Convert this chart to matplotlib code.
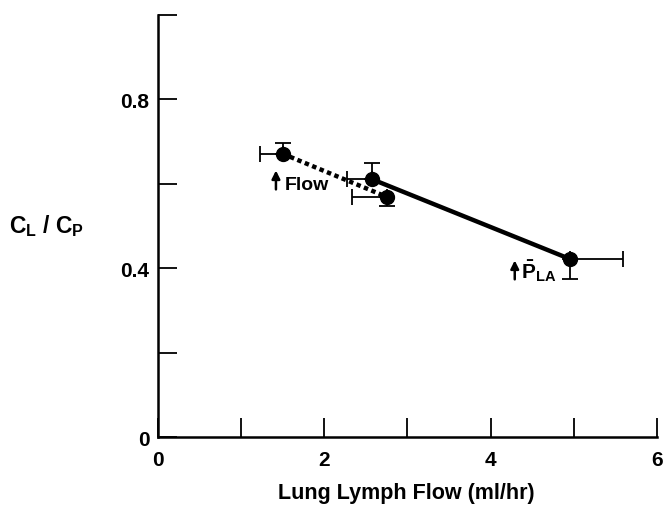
import matplotlib.pyplot as plt

plt.rcParams['font.family'] = ['Liberation Sans', 'DejaVu Sans']
plt.rcParams['font.weight'] = 'bold'
plt.rcParams['mathtext.fontset'] = 'custom'
plt.rcParams['mathtext.rm'] = 'Liberation Sans:bold'
plt.rcParams['mathtext.bf'] = 'Liberation Sans:bold'
plt.rcParams['mathtext.it'] = 'Liberation Sans:bold'

# datos
flujo = [1.50, 2.57, 2.75, 4.95]
cl_cp = [0.671, 0.611, 0.569, 0.422]
x_err_izq = [0.27, 0.30, 0.41, 0.0]
x_err_der = [0.0, 0.0, 0.0, 0.64]
y_err_abajo = [0.0, 0.0, 0.022, 0.048]
y_err_arriba = [0.026, 0.038, 0.0, 0.0]

punteada = [0, 2]   # Flow
solida = [1, 3]     # PLA

fig = plt.figure(figsize=(6.63, 5.10), dpi=100)
ax = fig.add_axes([0.238, 0.141, 0.753, 0.828])

ax.plot([flujo[i] for i in punteada], [cl_cp[i] for i in punteada],
        linestyle=(0, (1, 0.8)), linewidth=3.2, color='black')
ax.plot([flujo[i] for i in solida], [cl_cp[i] for i in solida],
        linestyle='-', linewidth=3.2, color='black')

ax.errorbar(flujo, cl_cp, xerr=[x_err_izq, x_err_der], yerr=[y_err_abajo, y_err_arriba],
            fmt='o', color='black', markersize=10, elinewidth=1.3, capsize=6, capthick=1.3)

ax.annotate('', xy=(1.42, 0.638), xytext=(1.42, 0.58),
            arrowprops=dict(arrowstyle='-|>', color='black', lw=1.8, mutation_scale=12))
ax.text(1.52, 0.598, 'Flow', fontsize=14, fontweight='bold', va='center', ha='left')

ax.annotate('', xy=(4.29, 0.425), xytext=(4.29, 0.367),
            arrowprops=dict(arrowstyle='-|>', color='black', lw=1.8, mutation_scale=12))
ax.text(4.37, 0.396, r'$\bar{\mathbf{P}}_{\mathbf{LA}}$', fontsize=15, va='center', ha='left')

ax.set_xlim(0, 6)
ax.set_ylim(0, 1.0)
ax.set_xticks([0, 1, 2, 3, 4, 5, 6])
ax.set_xticklabels(['0', '', '2', '', '4', '', '6'])
ax.set_yticks([0, 0.2, 0.4, 0.6, 0.8, 1.0])
ax.set_yticklabels(['0', '', '0.4', '', '0.8', ''])
ax.tick_params(direction='in', length=14, width=1.3, labelsize=15)
ax.tick_params(axis='x', pad=9)
ax.tick_params(axis='y', pad=6)
for lab in ax.get_xticklabels() + ax.get_yticklabels():
    lab.set_fontweight('bold')

ax.spines['top'].set_visible(False)
ax.spines['right'].set_visible(False)
ax.spines['left'].set_linewidth(1.8)
ax.spines['bottom'].set_linewidth(1.8)

fig.text(0.613, 0.012, 'Lung Lymph Flow (ml/hr)', fontsize=15.5, fontweight='bold',
         ha='center', va='bottom')
fig.text(0.071, 0.557, r'$\mathbf{C_L}$ / $\mathbf{C_P}$', fontsize=16.5, fontweight='bold',
         va='center', ha='center')

fig.savefig('out.png', dpi=100)
